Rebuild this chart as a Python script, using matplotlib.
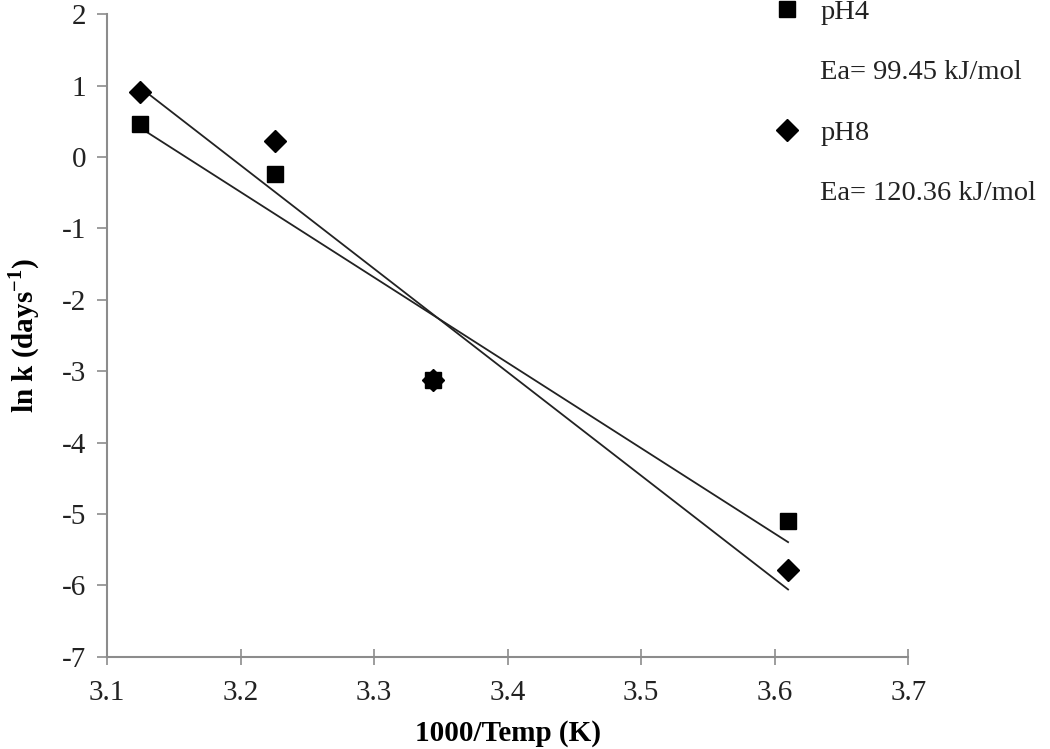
import matplotlib
matplotlib.use("Agg")
import matplotlib.pyplot as plt
from matplotlib.lines import Line2D
import numpy as np

plt.rcParams['font.family'] = ['Liberation Serif', 'DejaVu Serif']
plt.rcParams['axes.unicode_minus'] = False
plt.rcParams['mathtext.fontset'] = 'custom'
plt.rcParams['mathtext.rm'] = 'Liberation Serif'
plt.rcParams['mathtext.bf'] = 'Liberation Serif:bold'

# 1000/T values and ln k for each pH
inv_temp = [3.125, 3.226, 3.344, 3.610]
lnk_ph4 = [0.46, -0.24, -3.12, -5.10]
lnk_ph8 = [0.91, 0.22, -3.12, -5.79]
labels = ["pH4", "Ea= 99.45 kJ/mol", "pH8", "Ea= 120.36 kJ/mol"]

fs = 21

fig = plt.figure(figsize=(10.5, 7.49), dpi=100)
ax = fig.add_axes([0.102, 0.123, 0.763, 0.858])

x = np.array(inv_temp)
ax.plot(x, lnk_ph4, ls="none", marker="s", ms=12, color="black", zorder=3)
ax.plot(x, lnk_ph8, ls="none", marker="D", ms=11.5, color="black", zorder=3)

# linear trendlines (Arrhenius fits)
for y in (lnk_ph4, lnk_ph8):
    m, b = np.polyfit(x, y, 1)
    xx = np.array([x.min(), x.max()])
    ax.plot(xx, m * xx + b, color="#222222", lw=1.3, zorder=2)

ax.set_xlim(3.1, 3.7)
ax.set_ylim(-7, 2)
ax.set_xticks(np.arange(3.1, 3.71, 0.1))
ax.set_xticklabels([f"{v:.1f}" for v in np.arange(3.1, 3.71, 0.1)])
ax.set_yticks(range(-7, 3))

for side in ("top", "right"):
    ax.spines[side].set_visible(False)
for side in ("left", "bottom"):
    ax.spines[side].set_color("#8c8c8c")
    ax.spines[side].set_linewidth(1.5)
ax.tick_params(axis="x", direction="inout", length=12, width=1.2, color="#8c8c8c",
               labelsize=fs, pad=11, labelcolor="#222222")
ax.tick_params(axis="y", direction="out", length=7, width=1.2, color="#8c8c8c",
               labelsize=fs, pad=8, labelcolor="#222222")

ax.set_xlabel("1000/Temp (K)", fontsize=fs, fontweight="bold", labelpad=10)
ax.set_ylabel("ln k (days$^{\\mathbf{-1}}$)", fontsize=fs, fontweight="bold", labelpad=14)

handles = [
    Line2D([], [], ls="none", marker="s", ms=12, color="black"),
    Line2D([], [], ls="none", marker=None, color="white"),
    Line2D([], [], ls="none", marker="D", ms=11.5, color="black"),
    Line2D([], [], ls="none", marker=None, color="white"),
]
fig.legend(handles, labels, loc="upper left", bbox_to_anchor=(0.712, 1.035),
           frameon=False, fontsize=20.5, labelspacing=1.2, handlelength=1.0,
           handletextpad=0.65, labelcolor="#222222")

fig.savefig("out.png", dpi=100)
